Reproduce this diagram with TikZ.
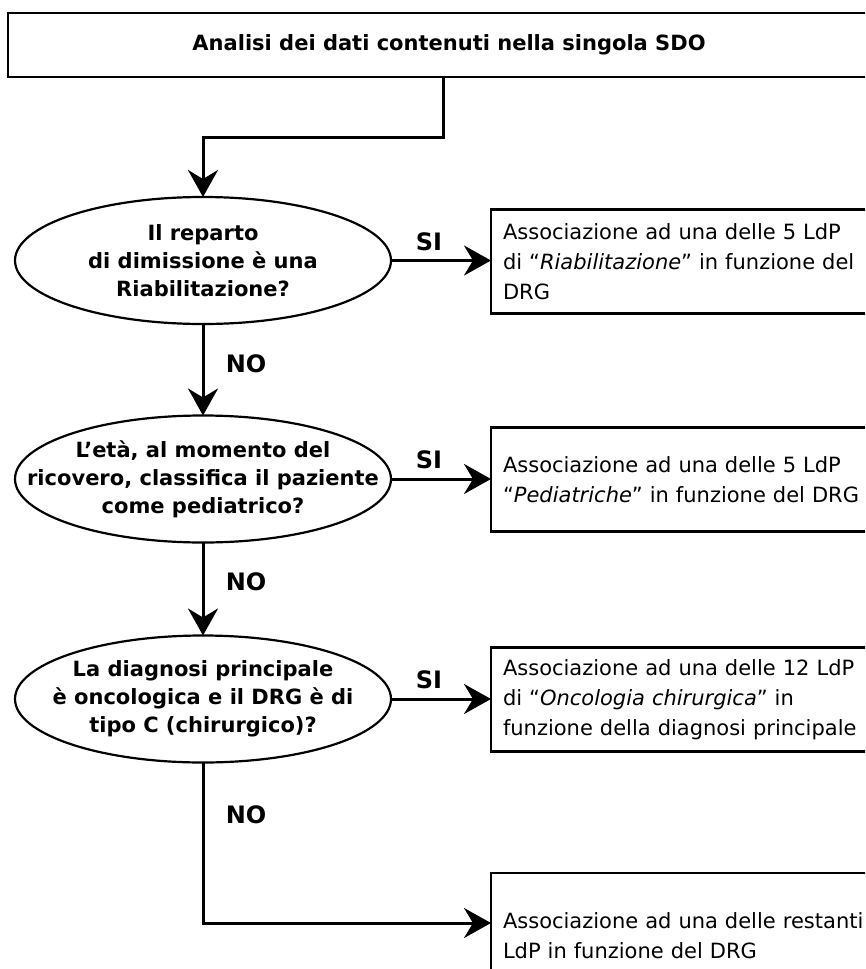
\documentclass[tikz,border=0pt]{standalone}
\usepackage{fontspec}
\setmainfont{DejaVu Sans}
\usetikzlibrary{shapes.geometric,arrows.meta}

\tikzset{
  shapeline/.style={draw=black, line width=2.2pt, outer sep=0pt},
  titlebox/.style={shapeline, rectangle, minimum width=870pt, minimum height=64pt},
  question/.style={shapeline, ellipse, minimum width=376pt, minimum height=127pt,
    inner sep=0pt},
  qtext/.style={align=center, inner sep=0pt, font=\fontsize{21}{28}\selectfont\bfseries},
  outcome/.style={shapeline, rectangle, anchor=north west, minimum height=104pt,
    inner xsep=12pt, inner ysep=0pt, text width=376pt, align=left,
    font=\fontsize{21}{30}\selectfont},
  conn/.style={line width=3pt, -{Stealth[length=27pt, width=30pt, inset=9pt]}},
  answer/.style={font=\fontsize{24}{28}\selectfont\bfseries, inner sep=0pt},
}

\begin{document}
\begin{tikzpicture}[x=1pt, y=-1pt]
  \useasboundingbox (0,0) rectangle (865,969);
  \clip (0,0) rectangle (865,969);
  \fill[white] (0,0) rectangle (865,969);

  % header box
  \node[titlebox] (top) at (443,45) {};
  \node[font=\fontsize{21}{27}\selectfont\bfseries] (toptext) at (449,45)
    {Analisi dei dati contenuti nella singola SDO};

  % decisions
  \node[question] (e1) at (203,260.5) {};
  \node[qtext] (e1t) at (e1.center)
    {Il reparto\\ di dimissione è una\\ Riabilitazione?};
  \node[question] (e2) at (203,479) {};
  \node[qtext] (e2t) at (e2.center)
    {L’età, al momento del\\ ricovero, classifica il paziente\\ come pediatrico?};
  \node[question] (e3) at (203,699) {};
  \node[qtext] (e3t) at (e3.center)
    {La diagnosi principale\\ è oncologica e il DRG è di\\ tipo C (chirurgico)?};

  % outcomes
  \node[outcome] (b1) at (491,209.5)
    {Associazione ad una delle 5 LdP\\ di “\textit{Riabilitazione}” in funzione del\\ DRG};
  \node[outcome] (b2) at (491,427.5)
    {Associazione ad una delle 5 LdP\\ “\textit{Pediatriche}” in funzione del DRG};
  \node[outcome] (b3) at (491,647.5)
    {Associazione ad una delle 12 LdP\\ di “\textit{Oncologia chirurgica}” in\\ funzione della diagnosi principale};
  \node[outcome, minimum height=126pt] (b4) at (491,873)
    {Associazione ad una delle restanti\\ LdP in funzione del DRG};

  % connectors
  \draw[conn] (top.south) -- ++(0,60) -| (e1.north);
  \draw[conn] (e1.east) -- (e1.east -| b1.west);
  \draw[conn] (e2.east) -- (e2.east -| b2.west);
  \draw[conn] (e3.east) -- (e3.east -| b3.west);
  \draw[conn] (e1.south) -- (e2.north);
  \draw[conn] (e2.south) -- (e3.north);
  \coordinate (turn) at (203,923);
  \draw[conn] (e3.south) |- (turn -| b4.west);

  % answer labels
  \node[answer] (si1) at (429,242) {SI};
  \node[answer] (si2) at (429,460) {SI};
  \node[answer] (si3) at (429,680) {SI};
  \node[answer] (no1) at (246,364) {NO};
  \node[answer] (no2) at (246,582) {NO};
  \node[answer] (no3) at (246,815) {NO};
\end{tikzpicture}
\end{document}
